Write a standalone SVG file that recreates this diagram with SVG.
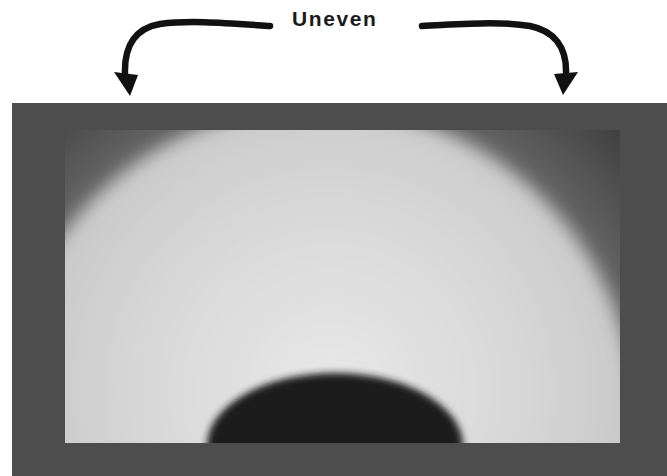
<svg xmlns="http://www.w3.org/2000/svg" width="667" height="476" viewBox="0 0 667 476">
  <style>
    .label { font-family: "Liberation Sans", Arial, sans-serif; font-weight: bold; font-size: 21px; fill: #1a1a1a; letter-spacing: 1.6px; }
    .shaft { fill: none; stroke: #111; stroke-width: 6.5; stroke-linecap: round; }
    .head { fill: #111; }
  </style>
  <defs>
    <clipPath id="innerClip"><rect x="65" y="130" width="555" height="313"/></clipPath>
    <radialGradient id="cornerGrad" gradientUnits="userSpaceOnUse" cx="318" cy="422" r="440">
      <stop offset="0.7" stop-color="#6a6a6a"/>
      <stop offset="0.88" stop-color="#4c4c4c"/>
      <stop offset="1" stop-color="#383838"/>
    </radialGradient>
    <radialGradient id="lightGrad" gradientUnits="userSpaceOnUse" cx="330" cy="390" r="330">
      <stop offset="0" stop-color="#e8e8e8"/>
      <stop offset="0.5" stop-color="#dadada"/>
      <stop offset="1" stop-color="#c6c6c6"/>
    </radialGradient>
    <filter id="softBig" x="-20%" y="-20%" width="140%" height="140%"><feGaussianBlur stdDeviation="9"/></filter>
    <filter id="softSmall" x="-10%" y="-20%" width="120%" height="140%"><feGaussianBlur stdDeviation="3.5"/></filter>
  </defs>

  <rect x="0" y="0" width="667" height="476" fill="#ffffff"/>

  <g id="frame">
    <rect x="12" y="103" width="655" height="373" fill="#4d4d4d"/>
  </g>

  <g id="illuminated-field" clip-path="url(#innerClip)">
    <rect x="65" y="130" width="555" height="313" fill="url(#cornerGrad)"/>
    <circle cx="318" cy="424" r="318" fill="url(#lightGrad)" filter="url(#softBig)"/>
    <ellipse cx="335" cy="446" rx="128" ry="73" fill="#1e1e1e" filter="url(#softSmall)"/>
  </g>

  <g id="label">
    <text class="label" x="292" y="26">Uneven</text>
  </g>

  <g id="connectors">
    <path class="shaft" d="M270,26 C225,23 190,20 160,24 C136,28 124,45 125,74"/>
    <polygon class="head" points="114,72 138,75 130,96"/>
    <path class="shaft" d="M422,26 C465,24 500,21 530,26 C555,31 567,48 566,74"/>
    <polygon class="head" points="554,74 578,72 563,95"/>
  </g>
</svg>
